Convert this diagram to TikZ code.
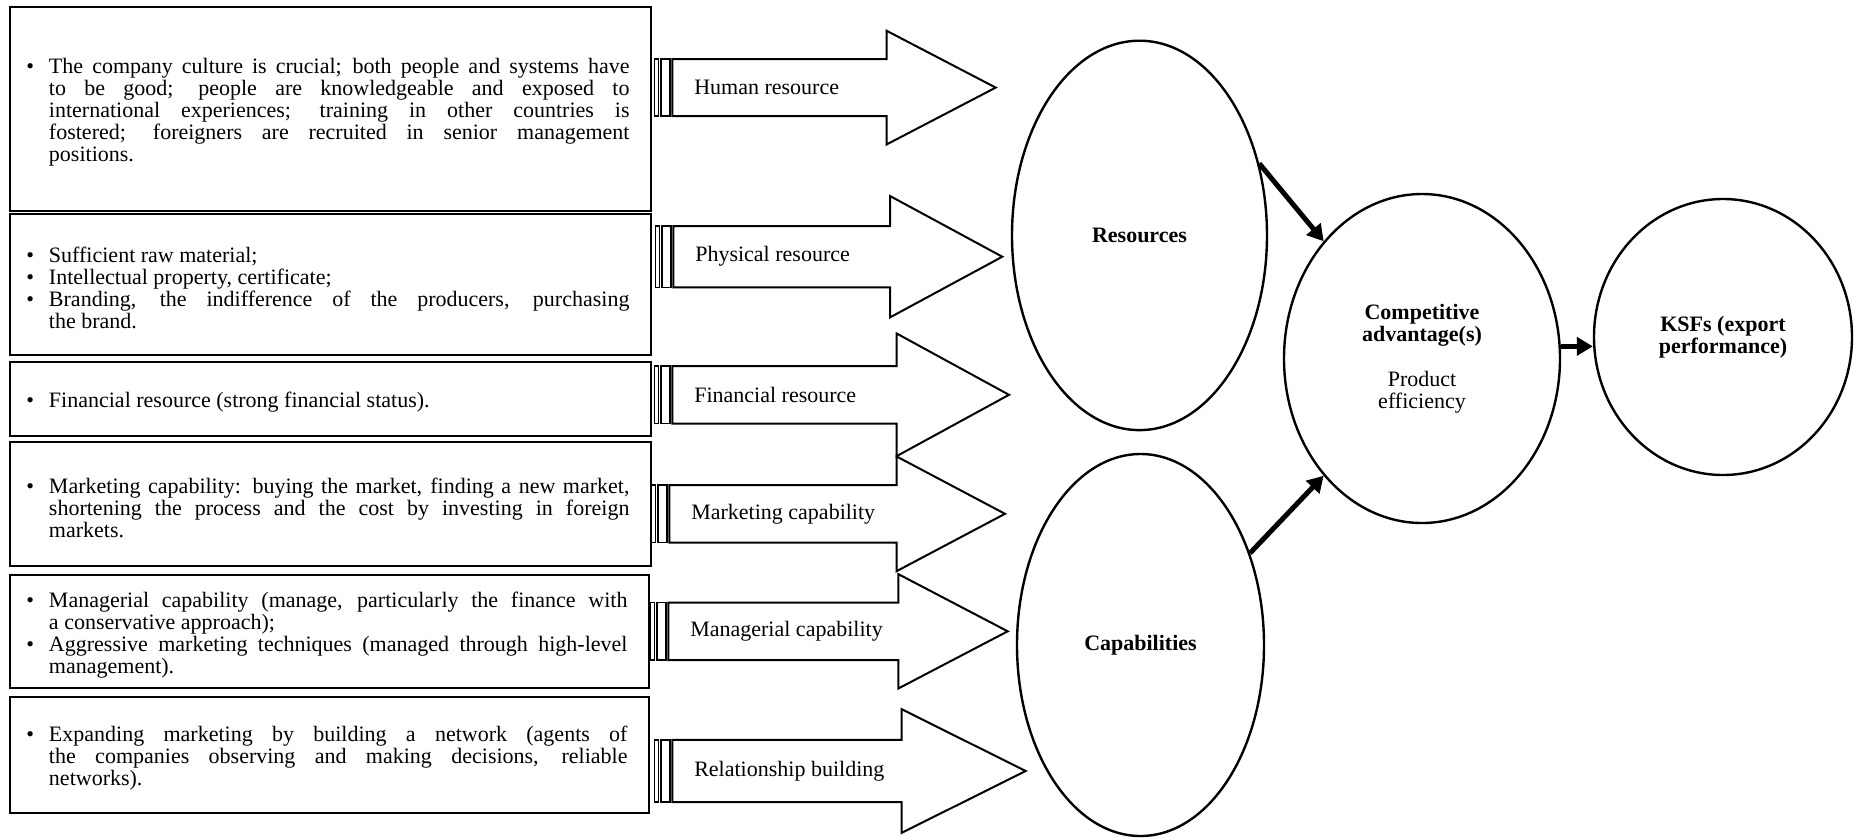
\documentclass[tikz,border=0pt]{standalone}
\usepackage{fontspec}
\setmainfont{Liberation Serif}
\usetikzlibrary{arrows.meta, shapes.geometric}
\newenvironment{pointlist}{%
  \setlength{\linewidth}{\hsize}%
  \begin{list}{\textbullet}{%
    \setlength{\leftmargin}{19.75pt}\setlength{\rightmargin}{10.75pt}%
    \setlength{\labelwidth}{10pt}\setlength{\labelsep}{7.4pt}%
    \setlength{\topsep}{0pt}\setlength{\partopsep}{0pt}%
    \setlength{\itemsep}{0pt}\setlength{\parsep}{0pt}}}%
  {\end{list}}
\tikzset{
  every picture/.style={font=\fontsize{11}{11}\selectfont, line width=1pt},
  txtbox/.style={draw, rectangle, inner xsep=0pt, inner ysep=2pt, text width=#1, align=justify},
  txtbox/.default=320.75pt,
  blockarrow/.style={draw, fill=white, line width=1pt, line join=miter},
  bar/.style={draw, line width=0.8pt},
  arrowlabel/.style={anchor=west, inner sep=0pt},
  oval/.style={draw, ellipse, line width=1.2pt, inner sep=0pt, align=center},
  conn/.style={-{Triangle[length=8pt,width=9pt]}, line width=2.5pt},
}
\begin{document}
\begin{tikzpicture}[x=1pt, y=-1pt]
  \path[use as bounding box, fill=white] (0,0) rectangle (927,418.5);
  \node[txtbox, minimum height=101.75pt] (hrtext) at (165.125,54.375) {\begin{pointlist}
    \item The company culture is crucial; both people and systems have \linebreak to be good; people are knowledgeable and exposed to \linebreak international experiences; training in other countries is \linebreak fostered; foreigners are recruited in senior management \linebreak positions.
  \end{pointlist}};
  \node[txtbox, minimum height=70.5pt] (prtext) at (165.125,142.4) {\begin{pointlist}
    \item Sufficient raw material;
    \item Intellectual property, certificate;
    \item Branding, the indifference of the producers, purchasing \linebreak the brand.
  \end{pointlist}};
  \node[txtbox, minimum height=36.85pt] (frtext) at (165.125,199.4) {\begin{pointlist}
    \item Financial resource (strong financial status).
  \end{pointlist}};
  \node[txtbox, minimum height=61.85pt] (mctext) at (165.125,252.1) {\begin{pointlist}
    \item Marketing capability: buying the market, finding a new market, \linebreak shortening the process and the cost by investing in foreign \linebreak markets.
  \end{pointlist}};
  \node[txtbox=319.75pt, minimum height=56.65pt] (mgtext) at (164.625,315.8) {\begin{pointlist}
    \item Managerial capability (manage, particularly the finance with \linebreak a conservative approach);
    \item Aggressive marketing techniques (managed through high-level \linebreak management).
  \end{pointlist}};
  \node[txtbox=319.75pt, minimum height=58pt] (rbtext) at (164.625,377.35) {\begin{pointlist}
    \item Expanding marketing by building a network (agents of \linebreak the companies observing and making decisions, reliable \linebreak networks).
  \end{pointlist}};
  \foreach \yc/\sh/\hh/\xs/\xb/\xt/\nm/\lab in {
    43.8/14.3/28.4/336.15/443.35/497.85/hr/Human resource,
    128.35/15.35/30.35/336.65/445/501.15/pr/Physical resource,
    197.4/14.4/30.65/336.15/448.35/504.5/fr/Financial resource,
    256.9/14.4/28.65/334.65/448.35/502.5/mc/Marketing capability,
    315.65/14.35/28.6/334.15/449.15/503.85/mg/Managerial capability,
    385.5/15.6/30.9/336.15/450.85/512.85/rb/Relationship building} {
    \draw[bar] (\xs-9,\yc-\sh) rectangle (\xs-7,\yc+\sh);
    \draw[bar] (\xs-5.65,\yc-\sh) rectangle (\xs-1.15,\yc+\sh);
    \draw[blockarrow] (\xs,\yc-\sh) -- (\xb,\yc-\sh) -- (\xb,\yc-\hh) -- (\xt,\yc) -- (\xb,\yc+\hh) -- (\xb,\yc+\sh) -- (\xs,\yc+\sh) -- cycle;
    \node[arrowlabel] (\nm arrow) at (\xs+10.5,\yc) {\lab};
  }
  \node[oval, minimum width=127.5pt, minimum height=194.7pt] (res) at (569.75,117.7) {\textbf{Resources}};
  \node[oval, minimum width=123.5pt, minimum height=191pt] (cap) at (570.25,322.5) {\textbf{Capabilities}};
  \node[oval, minimum width=138pt, minimum height=164.5pt] (cadv) at (711,179.25) {\textbf{Competitive}\\\textbf{advantage(s)}\\[11.5pt]Product\\efficiency};
  \node[oval, minimum width=129pt, minimum height=138pt] (ksf) at (861.5,168.5) {\textbf{KSFs (export}\\\textbf{performance)}};
  \draw[conn] (res.31) -- (cadv.130);
  \draw[conn] (cap.40) -- (cadv.230);
  \draw[conn] (cadv.5) -- (cadv.5 -| ksf.west);
\end{tikzpicture}
\end{document}
